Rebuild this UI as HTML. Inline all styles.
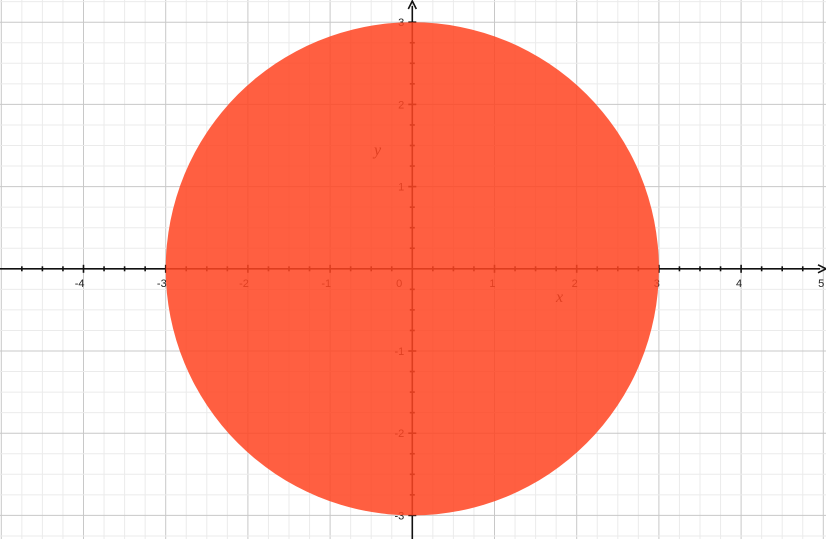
<!DOCTYPE html>
<html><head><meta charset="utf-8"><style>
html,body{margin:0;padding:0;background:#fff;overflow:hidden}
svg{display:block;font-family:"Liberation Sans",sans-serif}
</style></head><body>
<svg id="c" width="826" height="539"></svg>
<script>
const xTicks=[-4,-3,-2,-1,1,2,3,4,5];
const yTicks=[-3,-2,-1,1,2,3];
const circleCenter=[0,0];
const circleRadius=[3];
const ox=412.3, oy=268.8, u=82.2;
const X=v=>ox+v*u, Y=v=>oy-v*u;
const svg=document.getElementById('c');
const NS='http://www.w3.org/2000/svg';
function mk(t,a,p){const e=document.createElementNS(NS,t);for(const k in a)e.setAttribute(k,a[k]);(p||svg).appendChild(e);return e;}
const grid=mk('g',{});


for(let i=-24;i<=24;i++){const v=i/4;const x=X(v);if(x<0||x>826)continue;
 const l=mk('line',{x1:x,x2:x,y1:0,y2:539,stroke:i%4==0?'#c8c8c8':'#ebebeb','stroke-width':1},grid);
 
 }
for(let i=-16;i<=16;i++){const v=i/4;const y=Y(v);if(y<0||y>539)continue;
 const l=mk('line',{y1:y,y2:y,x1:0,x2:826,stroke:i%4==0?'#c8c8c8':'#ebebeb','stroke-width':1},grid);
 
 }
const ax=mk('g',{stroke:'#111','stroke-width':1.6});


mk('line',{x1:0,x2:820,y1:oy,y2:oy},ax);
mk('line',{x1:ox,x2:ox,y1:6,y2:539},ax);
mk('path',{d:`M818 ${oy-4} L826 ${oy} L818 ${oy+4}`,fill:'none'},ax);
mk('path',{d:`M${ox-4} 9 L${ox} 1 L${ox+4} 9`,fill:'none'},ax);
for(let i=-20;i<=20;i++){const v=i/4,x=X(v);if(x<2||x>815||i==0)continue;
 mk('line',{x1:x,x2:x,y1:oy-(i%4==0?4:2.5),y2:oy+(i%4==0?4:2.5)},ax);}
for(let i=-12;i<=12;i++){const v=i/4,y=Y(v);if(y<8||y>536||i==0)continue;
 mk('line',{y1:y,y2:y,x1:ox-(i%4==0?4:2.5),x2:ox+(i%4==0?4:2.5)},ax);}
const lab=mk('g',{fill:'#222','font-size':11});


xTicks.forEach(v=>{const t=mk('text',{x:X(v)+1,y:oy+18,'text-anchor':'end'},lab);t.textContent=v;
 
 });
yTicks.forEach(v=>{const t=mk('text',{x:ox-8,y:Y(v)+4,'text-anchor':'end'},lab);t.textContent=v;
 
 });
const z=mk('text',{x:ox-10,y:oy+18,'text-anchor':'end'},lab);z.textContent='0';


const xl=mk('text',{x:556,y:302,'font-family':'Liberation Serif,serif','font-style':'italic','font-size':16,fill:'#222'});xl.textContent='x';


const yl=mk('text',{x:374,y:155,'font-family':'Liberation Serif,serif','font-style':'italic','font-size':16,fill:'#222'});yl.textContent='y';


const c=mk('circle',{cx:X(circleCenter[0]),cy:Y(circleCenter[1]),r:circleRadius[0]*u,fill:'#ff4522','fill-opacity':0.86});


</script>
</body></html>
